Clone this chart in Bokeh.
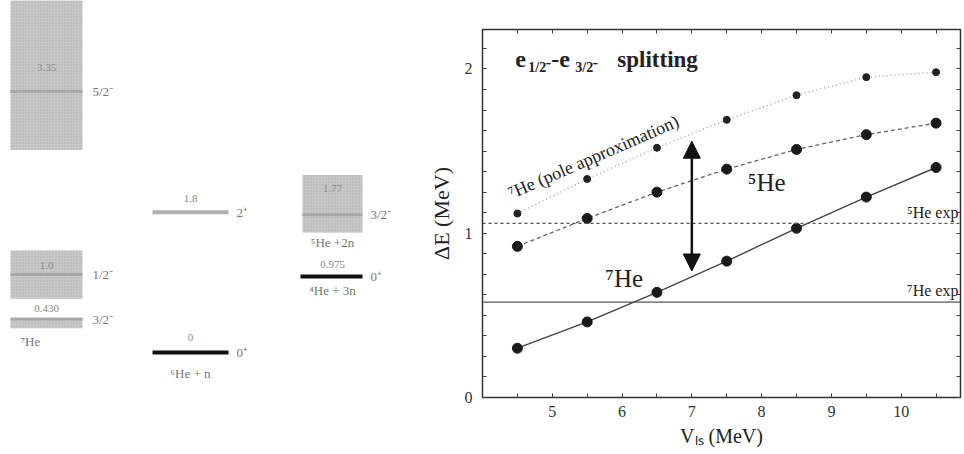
import numpy as np
from bokeh.plotting import figure
from bokeh.layouts import row, column
from bokeh.models import Range1d, FixedTicker, LinearAxis, Span, Arrow, NormalHead
from bokeh.embed import file_html
from bokeh.resources import INLINE
from bokeh.core.properties import value

# ---------------- data: right panel ----------------
v_ls = [4.5, 5.5, 6.5, 7.5, 8.5, 9.5, 10.5]
de_7he = [0.30, 0.46, 0.64, 0.83, 1.03, 1.22, 1.40]
de_5he = [0.92, 1.09, 1.25, 1.39, 1.51, 1.60, 1.67]
de_7he_pole = [1.12, 1.33, 1.52, 1.69, 1.84, 1.95, 1.98]
exp_5he = 1.06
exp_7he = 0.58
arrow_x = 7.0
arrow_y = [0.77, 1.56]
x_ticks = [5, 6, 7, 8, 9, 10]
y_ticks = [0, 1, 2]

# ---------------- data: left panel (level scheme) ----------------
he7_jpi = ["3/2⁻", "1/2⁻", "5/2⁻"]
he7_etext = ["0.430", "1.0", "3.35"]
he7_energy = [0.43, 1.0, 3.35]
he7_low = [0.31, 0.69, 2.60]
he7_high = [0.44, 1.31, 4.60]
he6_jpi = ["0⁺", "2⁺"]
he6_etext = ["0", "1.8"]
he6_energy = [0.0, 1.8]
he5_jpi = ["3/2⁻"]
he5_etext = ["1.77"]
he5_energy = [1.77]
he5_low = [1.54]
he5_high = [2.28]
he4_jpi = ["0⁺"]
he4_etext = ["0.975"]
he4_energy = [0.975]

SERIF = value("Liberation Serif")
GRAY_TXT = "#777777"

# ================= left figure =================
L = figure(width=420, height=454, x_range=Range1d(0, 420), y_range=Range1d(-1.31, 4.52),
           output_backend="svg", toolbar_location=None,
           min_border=0)
L.axis.visible = False
L.grid.visible = False
L.outline_line_color = None

BOX = dict(fill_color="#c8c8c8", line_color=None, hatch_pattern="dot",
           hatch_color="#b0b0b0", hatch_scale=3)

# 7He column
c7 = (10, 82)
L.quad(left=c7[0], right=c7[1], bottom=he7_low, top=he7_high, **BOX)
L.segment(x0=c7[0], x1=c7[1], y0=he7_energy, y1=he7_energy, line_color="#a9a9a9", line_width=3)
L.text(x=[c7[1] + 10] * 3, y=he7_energy, text=he7_jpi, text_font=SERIF, text_font_size="13px",
       text_color=GRAY_TXT, text_baseline="middle")
L.text(x=[(c7[0] + c7[1]) / 2] * 3, y=he7_energy, text=he7_etext, text_font=SERIF,
       text_font_size="11px", text_color="#888888", text_align="center", text_baseline="middle",
       y_offset=[-11, -9, -24])
L.text(x=[20], y=[he7_energy[0]], text=["⁷He"], text_font=SERIF, text_font_size="13px",
       text_color=GRAY_TXT, text_baseline="middle", y_offset=[22])

# 6He + n column
c6 = (152, 228)
L.segment(x0=c6[0], x1=c6[1], y0=he6_energy, y1=he6_energy,
          line_color=["#111111", "#b0b0b0"], line_width=[4, 4])
L.text(x=[c6[1] + 8] * 2, y=he6_energy, text=he6_jpi, text_font=SERIF, text_font_size="13px",
       text_color=GRAY_TXT, text_baseline="middle")
L.text(x=[(c6[0] + c6[1]) / 2] * 2, y=he6_energy, text=he6_etext, text_font=SERIF,
       text_font_size="11px", text_color="#888888", text_align="center", text_baseline="middle",
       y_offset=[-15, -14])
L.text(x=[(c6[0] + c6[1]) / 2], y=[he6_energy[0]], text=["⁶He + n"], text_font=SERIF,
       text_font_size="13px", text_color=GRAY_TXT, text_align="center", text_baseline="middle",
       y_offset=[21])

# 5He + 2n / 4He + 3n column
c5 = (302, 362)
L.quad(left=c5[0], right=c5[1], bottom=he5_low, top=he5_high, **BOX)
L.segment(x0=c5[0], x1=c5[1], y0=he5_energy, y1=he5_energy, line_color="#a9a9a9", line_width=3)
L.text(x=[c5[1] + 8], y=he5_energy, text=he5_jpi, text_font=SERIF, text_font_size="13px",
       text_color=GRAY_TXT, text_baseline="middle")
L.text(x=[(c5[0] + c5[1]) / 2], y=he5_energy, text=he5_etext, text_font=SERIF,
       text_font_size="11px", text_color="#888888", text_align="center", text_baseline="middle",
       y_offset=[-26])
L.text(x=[(c5[0] + c5[1]) / 2], y=he5_low, text=["⁵He +2n"], text_font=SERIF,
       text_font_size="13px", text_color=GRAY_TXT, text_align="center", text_baseline="middle",
       y_offset=[10])
L.segment(x0=c5[0] - 2, x1=c5[1], y0=he4_energy, y1=he4_energy, line_color="#111111", line_width=4)
L.text(x=[c5[1] + 8], y=he4_energy, text=he4_jpi, text_font=SERIF, text_font_size="13px",
       text_color=GRAY_TXT, text_baseline="middle")
L.text(x=[(c5[0] + c5[1]) / 2], y=he4_energy, text=he4_etext, text_font=SERIF,
       text_font_size="11px", text_color="#888888", text_align="center", text_baseline="middle",
       y_offset=[-12])
L.text(x=[(c5[0] + c5[1]) / 2], y=he4_energy, text=["⁴He + 3n"], text_font=SERIF,
       text_font_size="13px", text_color=GRAY_TXT, text_align="center", text_baseline="middle",
       y_offset=[14])

# ================= right figure =================
p = figure(width=544, height=454, x_range=Range1d(4, 10.85), y_range=Range1d(0, 2.24),
           output_backend="svg", toolbar_location=None,
           min_border_left=62, min_border_right=4, min_border_top=29, min_border_bottom=57)
p.grid.visible = False
p.outline_line_color = "#333333"
p.outline_line_width = 1.5

x_minor = list(np.arange(4.0, 11.0, 0.5))
y_minor = list(np.arange(0.0, 2.25, 0.125))


def style_axis(ax):
    ax.major_tick_in = 4
    ax.major_tick_out = 0
    ax.minor_tick_in = 4
    ax.minor_tick_out = 0
    ax.major_tick_line_color = "#444444"
    ax.minor_tick_line_color = "#444444"
    ax.axis_line_color = "#333333"
    ax.major_label_text_font = "Liberation Serif"
    ax.major_label_text_font_size = "16px"
    ax.major_label_text_color = "#333333"
    ax.axis_label_text_font = "Liberation Serif"
    ax.axis_label_text_font_style = "normal"
    ax.axis_label_text_font_size = "22px"
    ax.axis_label_text_color = "#222222"


p.xaxis.ticker = FixedTicker(ticks=x_ticks, minor_ticks=x_minor)
p.yaxis.ticker = FixedTicker(ticks=y_ticks, minor_ticks=y_minor)
p.xaxis.axis_label = "Vₗₛ (MeV)"
p.yaxis.axis_label = "ΔE (MeV)"
for a in p.xaxis + p.yaxis:
    style_axis(a)
p.xaxis.major_label_standoff = 8
p.xaxis.axis_label_text_font_size = "20px"
p.yaxis.major_label_standoff = 10
p.yaxis.axis_label_standoff = 8

# mirror axes: ticks only (no major ticks -> no labels)
top_ax = LinearAxis(ticker=FixedTicker(ticks=[], minor_ticks=x_minor))
style_axis(top_ax)
p.add_layout(top_ax, "above")
right_ax = LinearAxis(ticker=FixedTicker(ticks=[], minor_ticks=y_minor))
style_axis(right_ax)
p.add_layout(right_ax, "right")

# experimental lines
p.add_layout(Span(location=exp_5he, dimension="width", line_color="#555555",
                  line_dash="3 3", line_width=1.2))
p.add_layout(Span(location=exp_7he, dimension="width", line_color="#555555", line_width=1.3))

# curves
p.line(v_ls, de_7he_pole, line_color="#999999", line_dash="1 3", line_width=1.3)
p.scatter(v_ls, de_7he_pole, size=7, color="#222222")
p.line(v_ls, de_5he, line_color="#666666", line_dash="4 3", line_width=1.3)
p.scatter(v_ls, de_5he, size=10, color="#1a1a1a")
p.line(v_ls, de_7he, line_color="#444444", line_width=1.4)
p.scatter(v_ls, de_7he, size=10, color="#1a1a1a")

# double arrow
p.add_layout(Arrow(x_start=arrow_x, y_start=arrow_y[0], x_end=arrow_x, y_end=arrow_y[1],
                   line_width=2.5, line_color="#111111",
                   start=NormalHead(size=17, fill_color="#111111", line_color="#111111"),
                   end=NormalHead(size=17, fill_color="#111111", line_color="#111111")))

# title text
tx, ty = 4.47, 2.055
TB = dict(text_font=SERIF, text_font_style="bold", text_color="#222222",
          text_baseline="alphabetic")
p.text(x=[tx], y=[ty], text=["e"], text_font_size="24px", **TB)
p.text(x=[tx], y=[ty], text=["1/2⁻"], text_font_size="14px", x_offset=[13], y_offset=[8], **TB)
p.text(x=[tx], y=[ty], text=["-e"], text_font_size="24px", x_offset=[36], **TB)
p.text(x=[tx], y=[ty], text=["3/2⁻"], text_font_size="14px", x_offset=[60], y_offset=[8], **TB)
p.text(x=[tx], y=[ty], text=["splitting"], text_font_size="23px", x_offset=[102], **TB)

# curve labels
TN = dict(text_font=SERIF, text_color="#222222", text_baseline="alphabetic")
p.text(x=[4.38], y=[1.24], text=["⁷He (pole approximation)"], text_font_size="18px",
       angle=[0.41], **TN)
p.text(x=[7.80], y=[1.31], text=["⁵He"], text_font_size="25px", **TN)
p.text(x=[5.76], y=[0.725], text=["⁷He"], text_font_size="25px", **TN)
p.text(x=[10.82], y=[exp_5he], text=["⁵He exp"], text_font_size="16px",
       text_align="right", y_offset=[-11], **TN)
p.text(x=[10.82], y=[exp_7he], text=["⁷He exp"], text_font_size="16px",
       text_align="right", y_offset=[-12], **TN)

layout = row(column(L), p)
open("out.html", "w").write(file_html(layout, INLINE))
